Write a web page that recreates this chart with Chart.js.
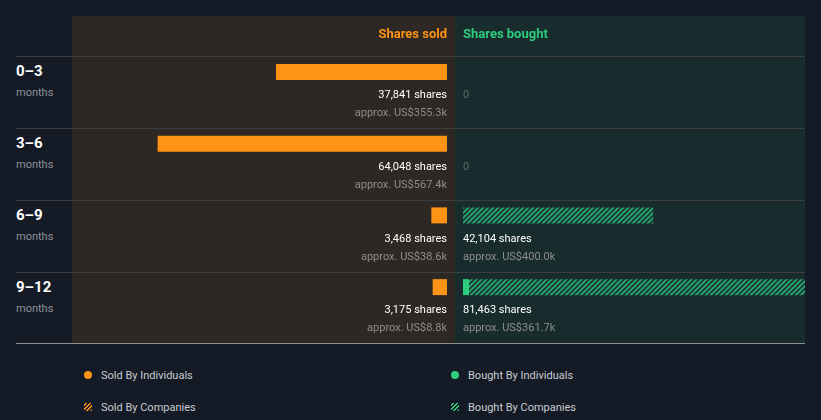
<!DOCTYPE html>
<html>
<head>
<meta charset="utf-8">
<script src="https://cdn.jsdelivr.net/npm/chart.js@4.4.1/dist/chart.umd.min.js"></script>
<style>
  body { margin: 0; background: #151b26; font-family: Roboto, sans-serif; }
  #wrap { position: relative; width: 821px; height: 420px; overflow: hidden; }
  .panel { position: absolute; top: 16px; height: 327px; }
  #soldPanel { left: 72px; width: 383px; background: #2d2823; }
  #boughtPanel { left: 455px; width: 350px; background: #182b2d; }
  .sep { position: absolute; left: 16px; width: 789px; height: 1px; background: #3a3e41; }
  .period { position: absolute; left: 16px; color: #fff; font-weight: 700; font-size: 15px; line-height: 18px; }
  .months { position: absolute; left: 16px; color: #8b9098; font-size: 11px; line-height: 14px; }
  .leg { position: absolute; color: #c8cbd0; font-size: 11px; line-height: 14px; }
  .dot { position: absolute; width: 8px; height: 8px; border-radius: 4px; }
  .hatch { position: absolute; width: 8px; height: 8px; border-radius: 2px; }
</style>
</head>
<body>
<div id="wrap">
  <div class="panel" id="soldPanel"><canvas id="soldChart"></canvas></div>
  <div class="panel" id="boughtPanel"><canvas id="boughtChart"></canvas></div>
  <div id="rows"></div>
  <div class="sep" style="top:343px;background:#8a8d92;"></div>

  <div class="dot" style="left:84px;top:371px;background:#ff9316;"></div>
  <div class="leg" style="left:101px;top:369px;">Sold By Individuals</div>
  <div class="hatch" style="left:84px;top:403px;background:repeating-linear-gradient(-45deg,#ff9316 0 1.5px,#151b26 1.5px 3px);"></div>
  <div class="leg" style="left:101px;top:401px;">Sold By Companies</div>
  <div class="dot" style="left:451px;top:371px;background:#2ecc7f;"></div>
  <div class="leg" style="left:468px;top:369px;">Bought By Individuals</div>
  <div class="hatch" style="left:451px;top:403px;background:repeating-linear-gradient(-45deg,#2ecc7f 0 1.5px,#151b26 1.5px 3px);"></div>
  <div class="leg" style="left:468px;top:401px;">Bought By Companies</div>
</div>
<script>
const periods = ['0–3', '3–6', '6–9', '9–12'];
const soldIndividuals = [37841, 64048, 3468, 3175];
const soldCompanies = [0, 0, 0, 0];
const boughtIndividuals = [0, 0, 0, 1330];
const boughtCompanies = [0, 0, 42104, 80133];
const soldShares = ['37,841 shares', '64,048 shares', '3,468 shares', '3,175 shares'];
const soldValue = ['approx. US$355.3k', 'approx. US$567.4k', 'approx. US$38.6k', 'approx. US$8.8k'];
const boughtShares = ['0', '0', '42,104 shares', '81,463 shares'];
const boughtValue = ['', '', 'approx. US$400.0k', 'approx. US$361.7k'];

// row labels + separators
const rows = document.getElementById('rows');
periods.forEach((p, i) => {
  const top = 56 + i * 72;
  rows.insertAdjacentHTML('beforeend',
    `<div class="sep" style="top:${top}px"></div>` +
    `<div class="period" style="top:${top + 6}px">${p}</div>` +
    `<div class="months" style="top:${top + 30}px">months</div>`);
});

function hatchPattern(color) {
  const c = document.createElement('canvas');
  c.width = 5; c.height = 5;
  const ctx = c.getContext('2d');
  ctx.strokeStyle = color;
  ctx.lineWidth = 2;
  ctx.beginPath();
  ctx.moveTo(-1, 6); ctx.lineTo(6, -1);
  ctx.moveTo(-1, 1); ctx.lineTo(1, -1);
  ctx.moveTo(4, 6); ctx.lineTo(6, 4);
  ctx.stroke();
  return document.createElement('canvas').getContext('2d').createPattern(c, 'repeat');
}

// header + text under the bars
function labelPlugin(title, titleColor, shares, values, side) {
  return {
    id: 'labels',
    afterDatasetsDraw(chart) {
      const ctx = chart.ctx;
      const area = chart.chartArea;
      const x = side === 'right' ? area.right : area.left;
      ctx.save();
      ctx.textAlign = side;
      ctx.textBaseline = 'middle';
      ctx.font = '700 13px Roboto';
      ctx.fillStyle = titleColor;
      ctx.fillText(title, x, 19);
      const bars = chart.getDatasetMeta(0).data;
      bars.forEach((bar, i) => {
        const y = bar.y;
        ctx.font = '11px Roboto';
        if (shares[i] === '0') {
          ctx.fillStyle = '#5b6b6b';
          ctx.fillText('0', x, y + 23.5);
        } else {
          ctx.fillStyle = '#ffffff';
          ctx.fillText(shares[i], x, y + 23.5);
          ctx.fillStyle = '#8d8d8d';
          ctx.fillText(values[i], x, y + 41.5);
        }
      });
      ctx.restore();
    }
  };
}

function makeChart(id, data1, data2, color, max, reverse, padding, plugin) {
  return new Chart(document.getElementById(id), {
    type: 'bar',
    data: {
      labels: periods,
      datasets: [
        { data: data1, backgroundColor: color, barThickness: 16, borderWidth: 0, inflateAmount: 0 },
        { data: data2, backgroundColor: hatchPattern(color === '#ff9316' ? '#c9741a' : '#26a06c'), barThickness: 16, borderWidth: 0, inflateAmount: 0 }
      ]
    },
    options: {
      indexAxis: 'y',
      responsive: true,
      maintainAspectRatio: false,
      animation: false,
      layout: { padding: padding },
      scales: {
        x: { type: 'linear', min: 0, max: max, reverse: reverse, stacked: true, display: false },
        y: { type: 'category', stacked: true, display: false }
      },
      plugins: { legend: { display: false }, tooltip: { enabled: false } }
    },
    plugins: [plugin]
  });
}

makeChart('soldChart', soldIndividuals, soldCompanies, '#ff9316', 83000, true,
  { top: 20, bottom: 20, left: 0, right: 8 },
  labelPlugin('Shares sold', '#ff9316', soldShares, soldValue, 'right'));

makeChart('boughtChart', boughtIndividuals, boughtCompanies, '#2ecc7f', 75700, false,
  { top: 20, bottom: 20, left: 8, right: 0 },
  labelPlugin('Shares bought', '#2ecc7f', boughtShares, boughtValue, 'left'));
</script>
</body>
</html>
